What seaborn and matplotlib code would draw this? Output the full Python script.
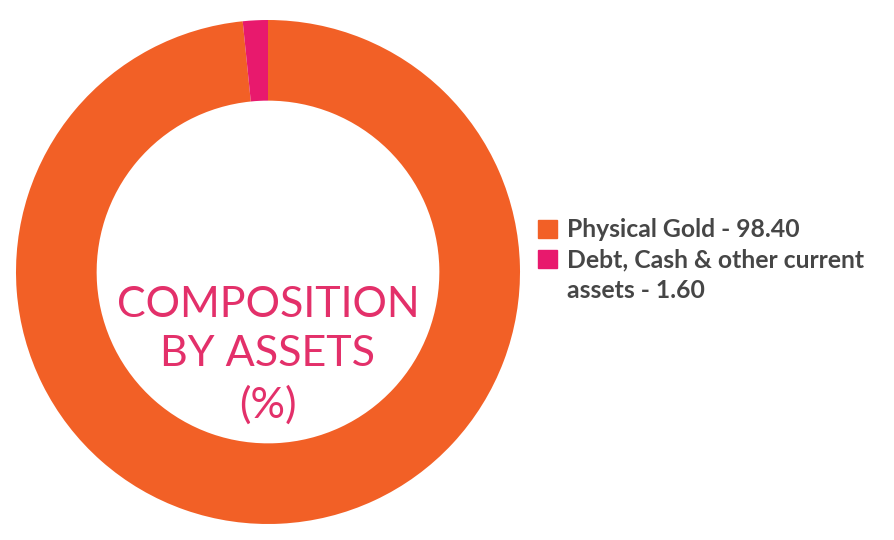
import matplotlib.pyplot as plt
import matplotlib.patches as mpatches
import seaborn as sns

labels = ["Physical Gold - 98.40", "Debt, Cash & other current", "assets - 1.60"]
values = [98.40, 1.60]
colors = ["#F26026", "#E8196D"]

sns.set_theme(style="white")
plt.rcParams['font.family'] = ['Lato', 'DejaVu Sans']

fig = plt.figure(figsize=(8.94, 5.40), dpi=100)
ax = fig.add_axes([16 / 894, 16 / 540, 504 / 894, 504 / 540])
ax.pie(values, colors=colors, startangle=90, counterclock=False,
       radius=1, wedgeprops=dict(width=0.32, edgecolor="none"))
ax.set_xlim(-1, 1)
ax.set_ylim(-1, 1)
ax.set_aspect("equal")
ax.axis("off")

ax.text(0, -0.33, "COMPOSITION\nBY ASSETS\n(%)", ha="center", va="center",
        color="#E3306A", fontsize=31, fontweight="normal", linespacing=1.36)

# second label wraps onto a row with no marker
handles = [mpatches.Patch(color=c) for c in colors] + [mpatches.Patch(alpha=0)]
leg = fig.legend(handles, labels, loc="upper left", bbox_to_anchor=(516 / 894, 1 - 196 / 540),
                 frameon=False, handlelength=0.75, handleheight=0.75,
                 handletextpad=0.4, labelspacing=0.3, labelcolor="#464646",
                 prop=dict(family="Lato", weight="bold", size=17.8))

fig.savefig("out.png", dpi=100)
